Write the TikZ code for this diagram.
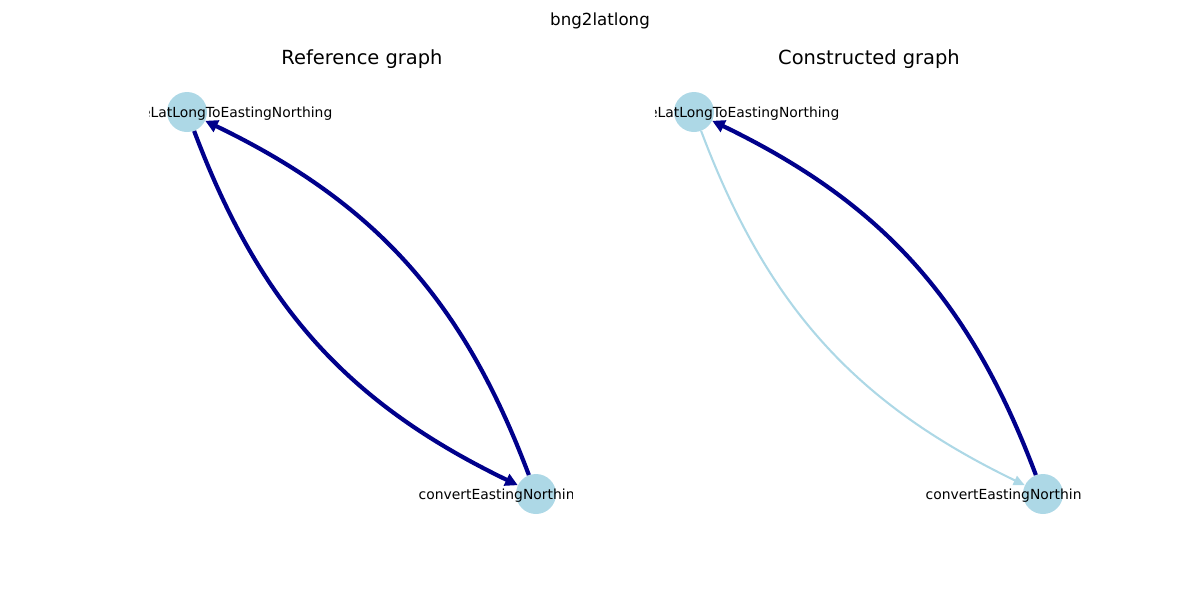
\documentclass[tikz,border=0pt]{standalone}
\usepackage{fontspec}
\setmainfont{DejaVu Sans}
\usetikzlibrary{arrows.meta}
\definecolor{nodeblue}{RGB}{173,216,230}
\definecolor{edgeblue}{RGB}{0,0,139}
\begin{document}
\begin{tikzpicture}[x=0.72pt,y=-0.72pt,
		vertex/.style={circle,fill=nodeblue,inner sep=0pt,minimum size=28.8pt},
		lbl/.style={font=\fontsize{10}{12}\selectfont,inner sep=0pt,yshift=-1.2pt},
		hit/.style={draw=edgeblue,line width=3pt,-{Triangle[length=9pt,width=9pt]},bend right=21.8},
		miss/.style={draw=nodeblue,line width=1.5pt,-{Triangle[length=8pt,width=7pt]},bend right=21.8}]
		\useasboundingbox (0,0) rectangle (1200,600);
		\node[font=\fontsize{12}{14}\selectfont] (title) at (600,21) {bng2latlong};
		\node[font=\fontsize{14}{17}\selectfont] (reftitle) at (362,59) {Reference graph};
		\node[font=\fontsize{14}{17}\selectfont] (contitle) at (869,59) {Constructed graph};
		\node[vertex] (refA) at (187,112) {};
		\node[vertex] (refB) at (536,494) {};
		\node[vertex] (conA) at (694,112) {};
		\node[vertex] (conB) at (1043,494) {};
		\draw[hit] (refA) to (refB);
		\draw[hit] (refB) to (refA);
		\draw[miss] (conA) to (conB);
		\draw[hit] (conB) to (conA);
		\begin{scope}
			\clip (149,72) rectangle (572.7,534);
			\node[lbl] (refAlbl) at (refA) {convertRelativeLatLongToEastingNorthing};
			\node[lbl] (refBlbl) at (refB) {convertEastingNorthingToLatLong};
		\end{scope}
		\begin{scope}
			\clip (655,72) rectangle (1080,534);
			\node[lbl] (conAlbl) at (conA) {convertRelativeLatLongToEastingNorthing};
			\node[lbl] (conBlbl) at (conB) {convertEastingNorthingToLatLong};
		\end{scope}
	\end{tikzpicture}
\end{document}
